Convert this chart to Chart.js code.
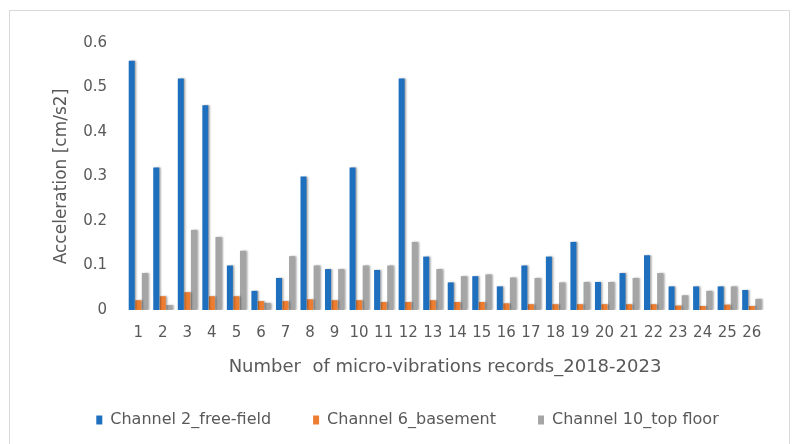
<!DOCTYPE html>
<html>
<head>
<meta charset="utf-8">
<script src="https://cdn.jsdelivr.net/npm/chart.js@4/dist/chart.umd.min.js"></script>
<style>
  html, body { margin: 0; padding: 0; background: #ffffff; }
  #wrap { width: 798px; height: 444px; position: relative; }
</style>
</head>
<body>
<div id="wrap"><canvas id="c" width="798" height="444"></canvas></div>
<script>
// Micro-vibration record numbers
const records = ['1','2','3','4','5','6','7','8','9','10','11','12','13','14','15','16','17','18','19','20','21','22','23','24','25','26'];

// Peak acceleration per record [cm/s2]
const freeField = [0.56, 0.32, 0.52, 0.46, 0.10, 0.043, 0.072, 0.30, 0.092, 0.32, 0.09, 0.52, 0.12, 0.062, 0.076, 0.053, 0.10, 0.12, 0.153, 0.063, 0.083, 0.123, 0.053, 0.053, 0.053, 0.045];
const basement  = [0.022, 0.031, 0.04, 0.031, 0.031, 0.02, 0.02, 0.024, 0.022, 0.022, 0.018, 0.018, 0.022, 0.018, 0.018, 0.015, 0.013, 0.013, 0.013, 0.013, 0.013, 0.013, 0.01, 0.009, 0.012, 0.009];
const topFloor  = [0.083, 0.011, 0.18, 0.164, 0.133, 0.016, 0.121, 0.10, 0.092, 0.10, 0.10, 0.153, 0.092, 0.076, 0.08, 0.073, 0.072, 0.062, 0.063, 0.063, 0.072, 0.083, 0.033, 0.043, 0.053, 0.025];

const yTicks = [0, 0.1, 0.2, 0.3, 0.4, 0.5, 0.6];

const FONT = '"DejaVu Sans", sans-serif';
const TEXT = '#595959';

// Thin frame around the whole figure
const framePlugin = {
  id: 'frame',
  beforeDraw(chart) {
    const ctx = chart.ctx;
    ctx.save();
    ctx.strokeStyle = '#d9d9d9';
    ctx.lineWidth = 1;
    ctx.strokeRect(9.5, 10.5, 780, 440);
    ctx.restore();
  }
};

// Soft drop shadow to the right of each bar
const barShadow = {
  id: 'barShadow',
  beforeDatasetsDraw(chart) {
    const ctx = chart.ctx;
    ctx.save();
    ctx.shadowColor = 'rgba(0,0,0,0.35)';
    ctx.shadowBlur = 2;
    ctx.shadowOffsetX = 1.5;
    ctx.shadowOffsetY = 0;
  },
  afterDatasetsDraw(chart) {
    chart.ctx.restore();
  }
};

new Chart(document.getElementById('c'), {
  type: 'bar',
  data: {
    labels: records,
    datasets: [
      { label: 'Channel 2_free-field', data: freeField, backgroundColor: '#1f6fbf' },
      { label: 'Channel 6_basement', data: basement, backgroundColor: '#ed7d31' },
      { label: 'Channel 10_top floor', data: topFloor, backgroundColor: '#a5a5a5' }
    ]
  },
  options: {
    responsive: false,
    animation: false,
    devicePixelRatio: 1,
    layout: { padding: { left: 51, right: 34, top: 43, bottom: 6 } },
    datasets: { bar: { categoryPercentage: 0.8, barPercentage: 0.92 } },
    scales: {
      x: {
        afterFit(scale) { scale.height = 60; },
        grid: { display: false },
        border: { display: false },
        ticks: { color: TEXT, font: { family: FONT, size: 15 }, padding: 6, maxRotation: 0, autoSkip: false },
        title: { display: true, text: 'Number  of micro-vibrations records_2018-2023', color: TEXT, font: { family: FONT, size: 18, lineHeight: 0.3 }, padding: 0 }
      },
      y: {
        min: 0, max: 0.6,
        afterBuildTicks(scale) { scale.ticks = yTicks.map(v => ({ value: v })); },
        afterFit(scale) { scale.width = 75; },
        grid: { display: false },
        border: { display: false },
        ticks: { color: TEXT, font: { family: FONT, size: 15 }, padding: 11, callback: v => String(Number(v.toFixed(1))) },
        title: { display: true, text: 'Acceleration [cm/s2]', color: TEXT, font: { family: FONT, size: 17 }, padding: 0 }
      }
    },
    plugins: {
      legend: {
        position: 'bottom',
        labels: { color: TEXT, font: { family: FONT, size: 16 }, boxWidth: 6, boxHeight: 9, padding: 42 }
      },
      tooltip: { enabled: false }
    }
  },
  plugins: [framePlugin, barShadow]
});
</script>
</body>
</html>
